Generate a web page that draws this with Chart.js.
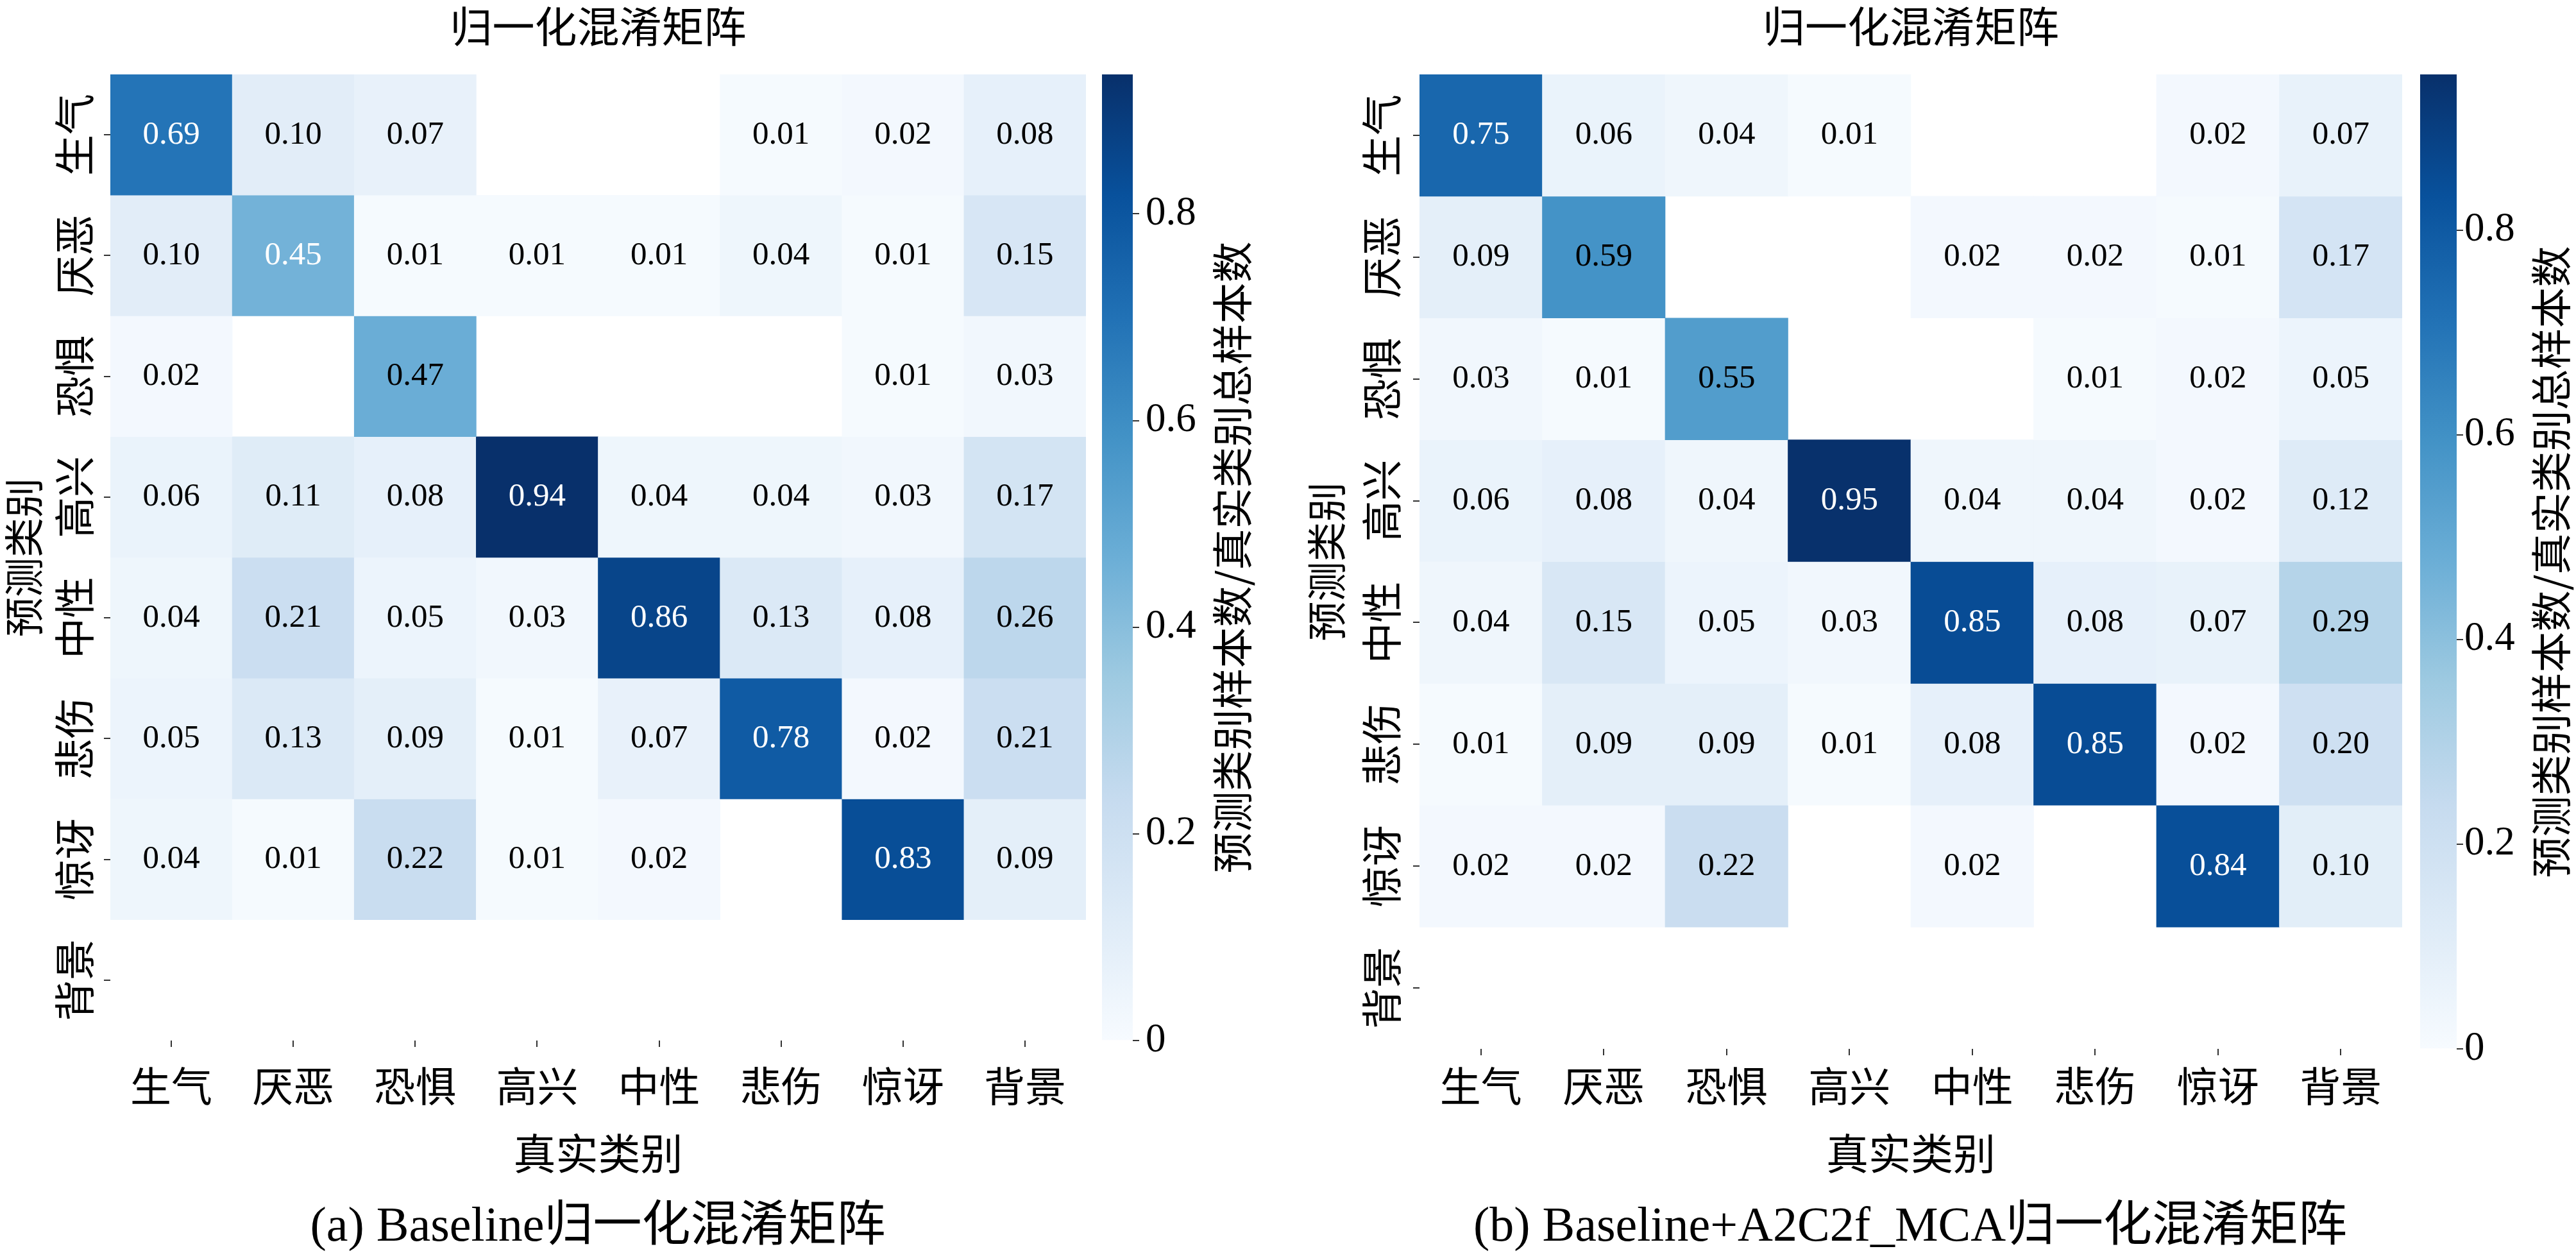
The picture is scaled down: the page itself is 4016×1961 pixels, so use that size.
<!DOCTYPE html>
<html>
<head>
<meta charset="utf-8">
<script src="https://cdn.jsdelivr.net/npm/chart.js@4.4.1/dist/chart.umd.min.js"></script>
<style>
  html, body { margin: 0; padding: 0; background: #fff; overflow: hidden; }
  #wrap { position: relative; width: 4016px; height: 1961px; background: #fff; }
  .abs { position: absolute; }
  .cap { position: absolute; text-align: center; white-space: nowrap; color: #000;
         font-family: "Liberation Serif", "Noto Sans CJK SC", serif; font-size: 76px; line-height: 90px; }
  .cblab { position: absolute; text-align: center; white-space: nowrap; color: #000;
           font-family: "Noto Sans CJK SC", sans-serif; font-size: 64px; line-height: 70px;
           transform: rotate(-90deg); }
</style>
</head>
<body>
<div id="wrap">
  <canvas id="hmA" class="abs"></canvas>
  <canvas id="cbA" class="abs"></canvas>
  <canvas id="hmB" class="abs"></canvas>
  <canvas id="cbB" class="abs"></canvas>
  <div id="cblA" class="cblab">预测类别样本数/真实类别总样本数</div>
  <div id="cblB" class="cblab">预测类别样本数/真实类别总样本数</div>
  <div id="capA" class="cap">(a) Baseline归一化混淆矩阵</div>
  <div id="capB" class="cap">(b) Baseline+A2C2f_MCA归一化混淆矩阵</div>
</div>
<script>
// ---------------- data ----------------
const colLabels = ['生气', '厌恶', '恐惧', '高兴', '中性', '悲伤', '惊讶', '背景'];
const rowLabels = ['生气', '厌恶', '恐惧', '高兴', '中性', '悲伤', '惊讶', '背景'];

// rows = predicted class, columns = true class (0 = empty cell)
const matrixA = [
  [0.69, 0.10, 0.07, 0.00, 0.00, 0.01, 0.02, 0.08],
  [0.10, 0.45, 0.01, 0.01, 0.01, 0.04, 0.01, 0.15],
  [0.02, 0.00, 0.47, 0.00, 0.00, 0.00, 0.01, 0.03],
  [0.06, 0.11, 0.08, 0.94, 0.04, 0.04, 0.03, 0.17],
  [0.04, 0.21, 0.05, 0.03, 0.86, 0.13, 0.08, 0.26],
  [0.05, 0.13, 0.09, 0.01, 0.07, 0.78, 0.02, 0.21],
  [0.04, 0.01, 0.22, 0.01, 0.02, 0.00, 0.83, 0.09],
  [0.00, 0.00, 0.00, 0.00, 0.00, 0.00, 0.00, 0.00]
];
const matrixB = [
  [0.75, 0.06, 0.04, 0.01, 0.00, 0.00, 0.02, 0.07],
  [0.09, 0.59, 0.00, 0.00, 0.02, 0.02, 0.01, 0.17],
  [0.03, 0.01, 0.55, 0.00, 0.00, 0.01, 0.02, 0.05],
  [0.06, 0.08, 0.04, 0.95, 0.04, 0.04, 0.02, 0.12],
  [0.04, 0.15, 0.05, 0.03, 0.85, 0.08, 0.07, 0.29],
  [0.01, 0.09, 0.09, 0.01, 0.08, 0.85, 0.02, 0.20],
  [0.02, 0.02, 0.22, 0.00, 0.02, 0.00, 0.84, 0.10],
  [0.00, 0.00, 0.00, 0.00, 0.00, 0.00, 0.00, 0.00]
];
const cbarMaxA = 0.935;
const cbarMaxB = 0.952;
const cbarTicks = [0, 0.2, 0.4, 0.6, 0.8];

const titleText = '归一化混淆矩阵';
const xTitle = '真实类别';
const yTitle = '预测类别';

// cells annotated in white (as in the reference)
const whiteCellsA = [[0,0],[1,1],[3,3],[4,4],[5,5],[6,6]];
const whiteCellsB = [[0,0],[3,3],[4,4],[5,5],[6,6]];

// ---------------- styling ----------------
const CJK = '"Noto Sans CJK SC", sans-serif';
const SERIF = '"Liberation Serif", serif';
const BLUES = [[247,251,255],[222,235,247],[198,219,239],[158,202,225],[107,174,214],
               [66,146,198],[33,113,181],[8,81,156],[8,48,107]];
function rgb(c) { return 'rgb(' + c.map(v => Math.round(v)).join(',') + ')'; }
function blues(t) {
  t = Math.max(0, Math.min(1, t));
  const s = t * 8, i = Math.min(7, Math.floor(s)), f = s - i;
  const a = BLUES[i], b = BLUES[i + 1];
  return rgb([0,1,2].map(k => a[k] + (b[k] - a[k]) * f));
}

const cellTextPlugin = {
  id: 'cellText',
  afterDatasetsDraw(chart, args, opts) {
    const ctx = chart.ctx;
    ctx.save();
    ctx.font = '51px ' + SERIF;
    ctx.textAlign = 'center';
    ctx.textBaseline = 'middle';
    chart.data.datasets.forEach((ds, r) => {
      const meta = chart.getDatasetMeta(r);
      meta.data.forEach((el, c) => {
        const v = opts.matrix[r][c];
        if (!(v > 0)) return;
        const white = opts.white.some(p => p[0] === r && p[1] === c);
        ctx.fillStyle = white ? '#ffffff' : '#000000';
        ctx.fillText(v.toFixed(2), el.x, (el.y + el.base) / 2);
      });
    });
    ctx.restore();
  }
};

function setBox(el, left, top, w, h) {
  el.width = w; el.height = h;
  el.style.left = left + 'px'; el.style.top = top + 'px';
  el.style.width = w + 'px'; el.style.height = h + 'px';
}

function makeHeatmap(id, cfg) {
  const canvas = document.getElementById(id);
  setBox(canvas, cfg.left, 0, cfg.width, cfg.height);
  const datasets = rowLabels.map((row, r) => ({
    label: row,
    data: cfg.matrix[r].map(v => v > 0 ? [r, r + 1] : null),
    backgroundColor: cfg.matrix[r].map(v => blues(v / cfg.vmax)),
    borderWidth: 0,
    grouped: false,
    categoryPercentage: 1,
    barPercentage: 1
  }));
  return new Chart(canvas, {
    type: 'bar',
    data: { labels: colLabels, datasets },
    plugins: [cellTextPlugin],
    options: {
      responsive: false, animation: false, devicePixelRatio: 1,
      layout: { padding: 0 },
      plugins: {
        legend: { display: false },
        tooltip: { enabled: false },
        title: {
          display: true, text: titleText, fullSize: false, color: '#000',
          font: { family: CJK, size: 66, weight: 'normal', lineHeight: 1.2 },
          padding: { top: 1, bottom: cfg.top - 1 - 79.2 }
        },
        cellText: { matrix: cfg.matrix, white: cfg.white }
      },
      scales: {
        x: {
          type: 'category', offset: true,
          grid: { offset: false, drawOnChartArea: false, drawTicks: true, tickLength: 10, color: '#333', lineWidth: 2 },
          border: { display: false },
          ticks: { color: '#000', font: { family: CJK, size: 64 }, padding: cfg.xPad, maxRotation: 0, autoSkip: false },
          title: { display: true, text: xTitle, color: '#000', font: { family: CJK, size: 66, lineHeight: 1.2 }, padding: { top: 0, bottom: 12 } },
          afterFit: s => { s.height = cfg.height - cfg.bottom; }
        },
        y: {
          type: 'linear', min: 0, max: rowLabels.length, reverse: true,
          afterBuildTicks: s => { s.ticks = rowLabels.map((_, i) => ({ value: i + 0.5 })); },
          grid: { drawOnChartArea: false, drawTicks: true, tickLength: 10, color: '#333', lineWidth: 2 },
          border: { display: false },
          ticks: {
            callback: (v, i) => rowLabels[i], color: '#000', font: { family: CJK, size: 64 },
            minRotation: 90, maxRotation: 90, crossAlign: 'center', padding: cfg.yPad, autoSkip: false
          },
          title: { display: true, text: yTitle, color: '#000', font: { family: CJK, size: 62, lineHeight: 1.2 }, padding: { top: 0, bottom: 0 } },
          afterFit: s => { s.width = cfg.yWidth; }
        }
      }
    }
  });
}

function makeColorbar(id, cfg) {
  const canvas = document.getElementById(id);
  setBox(canvas, cfg.left, 0, cfg.width, cfg.height);
  return new Chart(canvas, {
    type: 'bar',
    data: {
      labels: [''],
      datasets: [{
        data: [[0, cfg.vmax]],
        backgroundColor: (ctx) => {
          const ca = ctx.chart.chartArea;
          if (!ca) return rgb(BLUES[0]);
          const g = ctx.chart.ctx.createLinearGradient(0, ca.bottom, 0, ca.top);
          BLUES.forEach((c, i) => g.addColorStop(i / 8, rgb(c)));
          return g;
        },
        borderWidth: 0, categoryPercentage: 1, barPercentage: 1
      }]
    },
    options: {
      responsive: false, animation: false, devicePixelRatio: 1,
      layout: { padding: { top: cfg.top, bottom: cfg.height - cfg.bottom, left: 0, right: 0 } },
      plugins: { legend: { display: false }, tooltip: { enabled: false } },
      scales: {
        x: { display: false },
        y: {
          position: 'right', min: 0, max: cfg.vmax,
          afterBuildTicks: s => { s.ticks = cbarTicks.map(v => ({ value: v })); },
          grid: { drawOnChartArea: false, drawTicks: true, tickLength: 10, color: '#333', lineWidth: 2 },
          border: { display: false },
          ticks: { callback: v => String(v), color: '#000', font: { family: SERIF, size: 63 }, padding: cfg.pad, autoSkip: false },
          afterFit: s => { s.width = cfg.width - cfg.barW; }
        }
      }
    }
  });
}

function place(id, cx, cy, w, h) {
  const el = document.getElementById(id);
  el.style.left = (cx - w / 2) + 'px';
  el.style.top = (cy - h / 2) + 'px';
  el.style.width = w + 'px';
  el.style.height = h + 'px';
}

// Panel (a)
makeHeatmap('hmA', { left: 0, width: 1693, height: 1850, top: 116, bottom: 1622, yWidth: 172,
  yPad: -18, xPad: 22, matrix: matrixA, vmax: cbarMaxA, white: whiteCellsA });
makeColorbar('cbA', { left: 1718, width: 282, height: 1700, top: 116, bottom: 1622, barW: 48,
  pad: 10, vmax: cbarMaxA });
place('cblA', 1917, 869, 1500, 70);
place('capA', 932, 1908, 1700, 90);

// Panel (b)
makeHeatmap('hmB', { left: 2031, width: 3745 - 2031, height: 1850, top: 116, bottom: 1635, yWidth: 182,
  yPad: -15, xPad: 9, matrix: matrixB, vmax: cbarMaxB, white: whiteCellsB });
makeColorbar('cbB', { left: 3773, width: 4016 - 3773, height: 1700, top: 116, bottom: 1635, barW: 57,
  pad: 2, vmax: cbarMaxB });
place('cblB', 3973, 876, 1500, 70);
place('capB', 2978, 1908, 1900, 90);
</script>
</body>
</html>
